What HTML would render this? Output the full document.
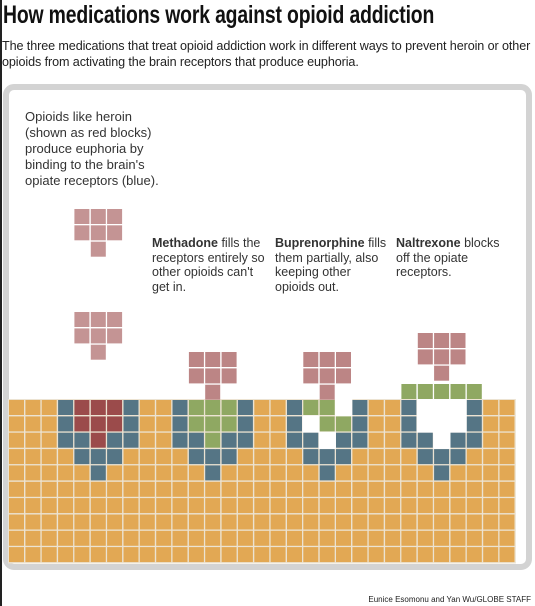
<!DOCTYPE html>
<html><head><meta charset="utf-8">
<style>
html,body{margin:0;padding:0;background:#fff;width:535px;height:606px;overflow:hidden;position:relative;font-family:"Liberation Sans",sans-serif;color:#222}
#title{position:absolute;left:3px;top:1px;font-size:25px;font-weight:bold;white-space:nowrap;transform-origin:0 0;transform:scaleX(0.775);letter-spacing:-0.2px;color:#111}
#sub{position:absolute;left:2px;top:38px;width:545px;font-size:12.6px;line-height:16px;color:#222;letter-spacing:-0.1px}
#frame{position:absolute;left:3px;top:84px;width:517px;height:474px;border:6px solid #d3d3d3;border-radius:11px;background:#fff}
.note{position:absolute;font-size:12.5px;line-height:14.7px;color:#333}
#credit{position:absolute;right:4px;top:595px;font-size:8px;color:#222}
#lb{position:absolute;left:0;top:0;width:2px;height:606px;background:#222}
</style></head><body>
<div id="lb"></div>
<div id="title">How medications work against opioid addiction</div>
<div id="sub">The three medications that treat opioid addiction work in different ways to prevent heroin or other<br>opioids from activating the brain receptors that produce euphoria.</div>
<div id="frame"></div>
<div class="note" style="left:25px;top:109px;font-size:13px;line-height:16px">Opioids like heroin<br>(shown as red blocks)<br>produce euphoria by<br>binding to the brain's<br>opiate receptors (blue).</div>
<div class="note" style="left:152px;top:236px"><b>Methadone</b> fills the<br>receptors entirely so<br>other opioids can't<br>get in.</div>
<div class="note" style="left:275px;top:236px"><b>Buprenorphine</b> fills<br>them partially, also<br>keeping other<br>opioids out.</div>
<div class="note" style="left:396px;top:236px"><b>Naltrexone</b> blocks<br>off the opiate<br>receptors.</div>
<div id="credit">Eunice Esomonu and Yan Wu/GLOBE STAFF</div>
<svg id="grid" width="535" height="606" style="position:absolute;left:0;top:0"></svg>
<script>
const cols=31, rows=10;
const receptorCells=[[3,0],[7,0],[3,1],[7,1],[3,2],[4,2],[6,2],[7,2],[4,3],[5,3],[6,3],[5,4],
[10,0],[14,0],[10,1],[14,1],[10,2],[11,2],[13,2],[14,2],[11,3],[12,3],[13,3],[12,4],
[17,0],[21,0],[17,1],[21,1],[17,2],[18,2],[20,2],[21,2],[18,3],[19,3],[20,3],[19,4],
[24,0],[28,0],[24,1],[28,1],[24,2],[25,2],[27,2],[28,2],[25,3],[26,3],[27,3],[26,4]];
const redCells=[[4,0],[5,0],[6,0],[4,1],[5,1],[6,1],[5,2]];
const greenCells=[[11,0],[12,0],[13,0],[11,1],[12,1],[13,1],[12,2],[18,0],[19,0],[19,1],[20,1]];
const emptyCells=[[20,0],[18,1],[19,2],[25,0],[26,0],[27,0],[25,1],[26,1],[27,1],[26,2]];
const floaters=[[4,209,'#c49494'],[4,312,'#c49494'],[11,352,'#bc8585'],[18,352,'#bc8585'],[25,333,'#bc8585']];
const naltrexoneBar=[24,25,26,27,28];
const X0=9,Y0=400,P=16.35,S=15;
const colors={O:'#e2a854',B:'#557585',R:'#9b4b4b',G:'#8fa862'};
const svg=document.getElementById('grid');const NS='http://www.w3.org/2000/svg';
const type={};
receptorCells.forEach(c=>type[c]='B');redCells.forEach(c=>type[c]='R');
greenCells.forEach(c=>type[c]='G');emptyCells.forEach(c=>type[c]='W');
const x=c=>X0+c*P, y=r=>Y0+r*P;
function rect(px,py,fill,name){const e=document.createElementNS(NS,'rect');
e.setAttribute('x',px.toFixed(1));e.setAttribute('y',py.toFixed(1));e.setAttribute('width',S);e.setAttribute('height',S);e.setAttribute('fill',fill);


svg.appendChild(e);}
const bg=document.createElementNS(NS,'rect');bg.setAttribute('x',X0-1);bg.setAttribute('y',Y0-1);bg.setAttribute('width',cols*P+1);bg.setAttribute('height',rows*P+1);bg.setAttribute('fill','#ece3d2');


svg.appendChild(bg);
for(let r=0;r<rows;r++)for(let c=0;c<cols;c++){const t=type[[c,r]]||'O';
 if(t==='W'){rect(x(c)-1,y(r)-1,'#fff','empty-receptor-cell');const e=svg.lastChild;e.setAttribute('width',P+1);e.setAttribute('height',P+1);continue;}
 rect(x(c),y(r),colors[t],t==='B'?'receptor-block':t==='R'?'heroin-block':t==='G'?'medication-block':'brain-block');}
floaters.forEach(([c,top,col])=>{for(let r=0;r<2;r++)for(let k=0;k<3;k++)rect(x(c+k),top+r*P,col,'opioid-block');rect(x(c+1),top+2*P,col,'opioid-block');});
naltrexoneBar.forEach(c=>rect(x(c),384,'#8fa862','naltrexone-block'));
</script>
</body></html>
